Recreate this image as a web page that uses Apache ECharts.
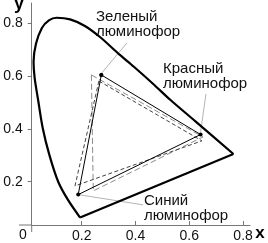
<!DOCTYPE html>
<html><head><meta charset="utf-8">
<script src="https://cdn.jsdelivr.net/npm/echarts@6/dist/echarts.min.js"></script>
<style>html,body{margin:0;padding:0;background:#fff}#c{width:268px;height:243px}</style>
</head><body><div id="c"></div>
<script>
// Spectral locus (from blue corner, up the left side, over the top, down to red corner)
const locusX = [0.194,0.149,0.113,0.080,0.055,0.038,0.025,0.021,0.030,0.052,0.078,0.107,0.157,0.212,0.268,0.342,0.394,0.469,0.529,0.624,0.764];
const locusY = [0.064,0.131,0.199,0.301,0.404,0.510,0.594,0.655,0.723,0.783,0.812,0.822,0.816,0.791,0.749,0.681,0.636,0.568,0.511,0.428,0.305];
// Phosphor triangles: [green, red, blue]
const triSolidX = [0.273,0.642,0.187];
const triSolidY = [0.605,0.379,0.151];
const triGrayX  = [0.236,0.651,0.243];
const triGrayY  = [0.605,0.370,0.165];
const triDashX  = [0.264,0.647,0.175];
const triDashY  = [0.582,0.355,0.184];
// leader lines: [from, to]
const leadGreenX = [0.274,0.368], leadGreenY = [0.612,0.726];
const leadRedX   = [0.642,0.662], leadRedY   = [0.389,0.533];
const leadBlueX  = [0.187,0.428], leadBlueY  = [0.151,0.112];
const xTicks = [0.2,0.4,0.6,0.8];
const yTicks = [0.2,0.4,0.6,0.8];
const labelGreen = 'Зеленый\nлюминофор';
const labelRed = 'Красный\nлюминофор';
const labelBlue = 'Синий\nлюминофор';

const zip = (xs, ys) => xs.map((x, i) => [x, ys[i]]);
const closed = (xs, ys) => { const d = zip(xs, ys); d.push(d[0]); return d; };
const locus = zip(locusX, locusY);
const purple = [locus[0], locus[locus.length - 1]];

const FONT = '"Liberation Sans", Arial, sans-serif';
const chart = echarts.init(document.getElementById('c'), null, {renderer: 'canvas'});
const lineS = (data, color, width, type, extra) => Object.assign({
  type: 'line', data, showSymbol: false, symbol: 'none', silent: true,
  lineStyle: {color, width, type}, z: 3
}, extra || {});

chart.setOption({
  animation: false,
  backgroundColor: '#fff',
  grid: {left: 31.7, right: 18, top: 3, bottom: 18, outerBoundsMode: 'none', containLabel: false},
  xAxis: {
    type: 'value', min: 0.0141, max: 0.8257,
    axisLine: {show: true, lineStyle: {color: '#777', width: 1}},
    axisTick: {show: true, inside: true, length: 4, customValues: xTicks, lineStyle: {color: '#777'}},
    axisLabel: {show: true, customValues: xTicks, margin: 4, color: '#111', fontSize: 14, fontFamily: FONT,
      formatter: v => String(v)},
    splitLine: {show: false}
  },
  yAxis: {
    type: 'value', min: 0.0357, max: 0.878,
    axisLine: {show: true, lineStyle: {color: '#777', width: 1}},
    axisTick: {show: true, inside: false, length: 4, customValues: yTicks, lineStyle: {color: '#777'}},
    axisLabel: {show: true, customValues: yTicks, margin: 9, color: '#111', fontSize: 14, fontFamily: FONT,
      formatter: v => String(v)},
    splitLine: {show: false}
  },
  series: [
    lineS(zip(leadGreenX, leadGreenY), '#b4b4b4', 1, 'solid'),
    lineS(zip(leadRedX, leadRedY), '#b4b4b4', 1, 'solid'),
    lineS(zip(leadBlueX, leadBlueY), '#b4b4b4', 1, 'solid'),
    lineS(closed(triGrayX, triGrayY), '#8c8c8c', 1, [6, 3]),
    lineS(closed(triDashX, triDashY), '#444', 1, [4, 2.5]),
    lineS(closed(triSolidX, triSolidY), '#000', 1, 'solid',
      {showSymbol: true, symbol: 'circle', symbolSize: 4, itemStyle: {color: '#000'}}),
    lineS(locus, '#000', 2.2, 'solid', {smooth: 0.3, z: 4}),
    lineS(purple, '#000', 2.2, 'solid', {z: 4})
  ],
  graphic: [
    {type: 'line', shape: {x1: 19, y1: 225, x2: 31.7, y2: 225}, style: {stroke: '#777', lineWidth: 1}, silent: true},
    {type: 'line', shape: {x1: 31.7, y1: 225, x2: 31.7, y2: 232}, style: {stroke: '#777', lineWidth: 1}, silent: true},
    {type: 'text', x: 23, y: 235, style: {text: '0', font: '14px ' + FONT, fill: '#111', textAlign: 'center', textVerticalAlign: 'middle'}},
    {type: 'text', x: 19, y: 4, style: {text: 'y', font: 'bold 18px ' + FONT, fill: '#000', textAlign: 'center', textVerticalAlign: 'middle'}},
    {type: 'text', x: 260, y: 233, style: {text: 'x', font: 'bold 17px ' + FONT, fill: '#000', textAlign: 'center', textVerticalAlign: 'middle'}},
    {type: 'text', x: 96, y: 9, style: {text: labelGreen, font: '15px ' + FONT, lineHeight: 15, fill: '#111', textAlign: 'left', textVerticalAlign: 'top'}},
    {type: 'text', x: 163, y: 61, style: {text: labelRed, font: '15px ' + FONT, lineHeight: 15.5, fill: '#111', textAlign: 'left', textVerticalAlign: 'top'}},
    {type: 'text', x: 144, y: 193.5, style: {text: labelBlue, font: '15px ' + FONT, lineHeight: 15, fill: '#111', textAlign: 'left', textVerticalAlign: 'top'}}
  ]
});
</script></body></html>
